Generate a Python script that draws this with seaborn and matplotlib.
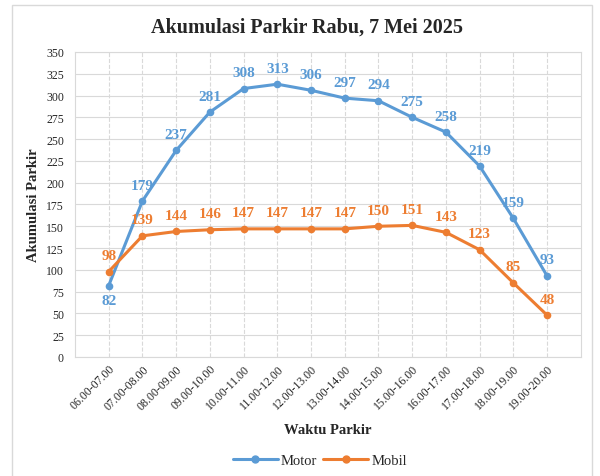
import numpy as np
import pandas as pd
import matplotlib
matplotlib.use("Agg")
import matplotlib.pyplot as plt
import seaborn as sns
from matplotlib.patches import Rectangle

# --- data ---
waktu = ["06.00-07.00", "07.00-08.00", "08.00-09.00", "09.00-10.00", "10.00-11.00",
         "11.00-12.00", "12.00-13.00", "13.00-14.00", "14.00-15.00", "15.00-16.00",
         "16.00-17.00", "17.00-18.00", "18.00-19.00", "19.00-20.00"]
motor = [82, 179, 237, 281, 308, 313, 306, 297, 294, 275, 258, 219, 159, 93]
mobil = [98, 139, 144, 146, 147, 147, 147, 147, 150, 151, 143, 123, 85, 48]

warna = {"Motor": "#5B9BD5", "Mobil": "#ED7D31"}

df = pd.concat([
    pd.DataFrame({"Waktu": waktu, "Jumlah": motor, "Jenis": "Motor"}),
    pd.DataFrame({"Waktu": waktu, "Jumlah": mobil, "Jenis": "Mobil"}),
], ignore_index=True)

sns.set_style("white")
plt.rcParams["font.family"] = ["Liberation Serif", "DejaVu Serif"]

fig = plt.figure(figsize=(6, 4.77), dpi=100)
ax = fig.add_axes([0.125, 0.2495, 0.843, 0.6395])

# bingkai luar grafik
fig.patches.append(Rectangle((0.02, -0.02), 0.967, 1.007, transform=fig.transFigure,
                             fill=False, edgecolor="#D9D9D9", linewidth=1))

sns.lineplot(data=df, x="Waktu", y="Jumlah", hue="Jenis", palette=warna,
             marker="o", markersize=5.5, markeredgewidth=0, linewidth=2.2,
             ax=ax, legend=False, sort=False)

# label data
for nama, nilai in [("Motor", motor), ("Mobil", mobil)]:
    for i, v in enumerate(nilai):
        dy = 11.5
        if nama == "Motor" and i == 0:
            dy = -11
        ax.annotate(str(v), (i, v), xytext=(0, dy), textcoords="offset points",
                    ha="center", va="center", fontsize=11, fontweight="bold",
                    color=warna[nama])

ax.set_xlim(-1, len(waktu))
ax.set_ylim(0, 350)
ax.set_yticks(np.arange(0, 351, 25))
ax.set_xticks(range(len(waktu)))
ax.set_xticklabels(waktu, rotation=45, ha="right", rotation_mode="anchor", fontsize=8.5)
ax.tick_params(axis="y", labelsize=8.5, length=0, pad=8)
ax.tick_params(axis="x", length=0, pad=4)

ax.grid(axis="y", color="#D9D9D9", linewidth=0.8)
ax.grid(axis="x", color="#D9D9D9", linewidth=0.8, linestyle="--")
ax.set_axisbelow(True)
for s in ax.spines.values():
    s.set_color("#D9D9D9")
    s.set_linewidth(0.8)

fig.text(0.512, 0.943, "Akumulasi Parkir Rabu, 7 Mei 2025", fontsize=14.5,
         fontweight="bold", ha="center", va="center")
ax.set_xlabel("Waktu Parkir", fontsize=10.5, fontweight="bold", labelpad=8)
ax.set_ylabel("Akumulasi Parkir", fontsize=10.5, fontweight="bold", labelpad=4)

handles = [plt.Line2D([], [], color=warna[k], marker="o", markersize=5, lw=2.2) for k in ["Motor", "Mobil"]]
fig.legend(handles, ["Motor", "Mobil"], loc="center", bbox_to_anchor=(0.533, 0.033),
           ncol=2, frameon=False, fontsize=10.5, handlelength=3.1, handletextpad=0.2,
           columnspacing=0.4)

fig.savefig("out.png", dpi=100)
